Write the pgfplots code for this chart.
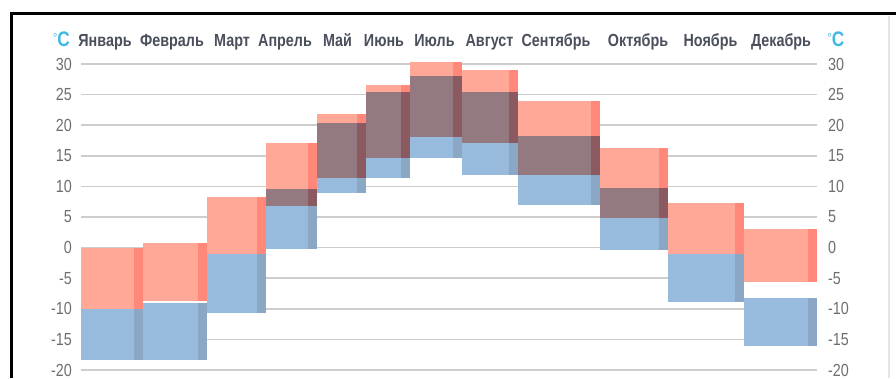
\documentclass[border=0pt]{standalone}
\usepackage{pgfplots}
\pgfplotsset{compat=1.18}
\usepackage{pgfplotstable}
\usepackage{fontspec}
\setmainfont[FakeStretch=0.82]{Liberation Sans}
\definecolor{rM}{HTML}{FFA898}
\definecolor{rS}{HTML}{FF887A}
\definecolor{bM}{HTML}{98BADC}
\definecolor{bS}{HTML}{8AA8C6}
\definecolor{dM}{HTML}{947A80}
\definecolor{dS}{HTML}{8A5A60}
\definecolor{gridc}{HTML}{CDCDCD}
\definecolor{tickc}{HTML}{6E6E6E}
\definecolor{monc}{HTML}{4A4F5C}
\definecolor{degc}{HTML}{40B8E6}

% column edges (x0,x1), red range (rlo,rhi), blue range (blo,bhi)
\pgfplotstableread{
x0  x1  rlo   rhi   blo    bhi
81  143 -10.0 0.0   -18.4  -10.0
143 207 -8.7  0.8   -18.4  -9.1
207 266 -1.1  8.2   -10.7  -1.1
266 317 6.8   17.1  -0.3   9.6
317 366 11.3  21.8  9.0    20.3
366 410 14.7  26.6  11.4   25.4
410 462 18.0  30.4  14.7   28.1
462 518 17.1  29.1  11.9   25.4
518 600 11.9  24.0  6.9    18.2
600 668 4.9   16.3  -0.4   9.8
668 744 -1.1  7.3   -8.9   -1.1
744 817 -5.6  3.0   -16.0  -8.3
}\temps

\begin{document}
\begin{tikzpicture}
\path[use as bounding box] (0pt,0pt) rectangle (896pt,378pt);
% frame
\draw[line width=3pt,black] (11pt,0pt) -- (11pt,364pt) -- (896pt,364pt);
\draw[line width=2.5pt,black!10] (889pt,0pt) -- (889pt,362pt);

\begin{axis}[
  at={(81pt,8pt)}, anchor=south west,
  width=736pt, height=306pt, scale only axis,
  xmin=81, xmax=817, ymin=-20, ymax=30,
  clip=false,
  axis line style={draw=none},
  major tick length=0pt,
  ytick={-20,-15,...,30},
  ymajorgrids,
  grid style={color=gridc, line width=1.6pt},
  /pgf/number format/assume math mode=true,
  yticklabel style={font=\fontsize{17.5}{17.5}\selectfont, text=tickc, anchor=east, inner sep=0pt, xshift=-9pt},
  xtick={105,172,232,285,337.5,384,434.5,489.5,556,638,710.5,781},
  xticklabels={Январь,Февраль,Март,Апрель,Май,Июнь,Июль,Август,Сентябрь,Октябрь,Ноябрь,Декабрь},
  xticklabel pos=upper,
  xticklabel style={font=\fontsize{17.5}{17.5}\selectfont\bfseries, text=monc, anchor=base, inner sep=0pt, yshift=17.3pt},
]
\pgfplotsinvokeforeach{0,...,11}{%
  \pgfplotstablegetelem{#1}{x0}\of\temps \edef\xa{\pgfplotsretval}%
  \pgfplotstablegetelem{#1}{x1}\of\temps \edef\xb{\pgfplotsretval}%
  \pgfplotstablegetelem{#1}{rlo}\of\temps \edef\rlo{\pgfplotsretval}%
  \pgfplotstablegetelem{#1}{rhi}\of\temps \edef\rhi{\pgfplotsretval}%
  \pgfplotstablegetelem{#1}{blo}\of\temps \edef\blo{\pgfplotsretval}%
  \pgfplotstablegetelem{#1}{bhi}\of\temps \edef\bhi{\pgfplotsretval}%
  \pgfmathsetmacro\xs{\xb-9}%
  \edef\doit{%
    \noexpand\addplot[draw=none,fill=rM] coordinates {(\xa,\rlo) (\xs,\rlo) (\xs,\rhi) (\xa,\rhi)};%
    \noexpand\addplot[draw=none,fill=rS] coordinates {(\xs,\rlo) (\xb,\rlo) (\xb,\rhi) (\xs,\rhi)};%
    \noexpand\addplot[draw=none,fill=bM] coordinates {(\xa,\blo) (\xs,\blo) (\xs,\bhi) (\xa,\bhi)};%
    \noexpand\addplot[draw=none,fill=bS] coordinates {(\xs,\blo) (\xb,\blo) (\xb,\bhi) (\xs,\bhi)};%
  }\doit
  \pgfmathsetmacro\olo{max(\rlo,\blo)}%
  \pgfmathsetmacro\ohi{min(\rhi,\bhi)}%
  \ifdim\olo pt<\ohi pt
    \edef\doit{%
      \noexpand\addplot[draw=none,fill=dM] coordinates {(\xa,\olo) (\xs,\olo) (\xs,\ohi) (\xa,\ohi)};%
      \noexpand\addplot[draw=none,fill=dS] coordinates {(\xs,\olo) (\xb,\olo) (\xb,\ohi) (\xs,\ohi)};%
    }\doit
  \fi
}
\end{axis}

\begin{axis}[
  at={(81pt,8pt)}, anchor=south west,
  width=736pt, height=306pt, scale only axis,
  xmin=81, xmax=817, ymin=-20, ymax=30,
  axis line style={draw=none},
  major tick length=0pt,
  xtick=\empty,
  ytick={-20,-15,...,30},
  yticklabel pos=right,
  /pgf/number format/assume math mode=true,
  yticklabel style={font=\fontsize{17.5}{17.5}\selectfont, text=tickc, anchor=west, inner sep=0pt, xshift=11pt},
]
\end{axis}

\node[anchor=base, text=degc, inner sep=0pt] at (61.5pt,331.3pt) {{\fontsize{13}{13}\selectfont\raisebox{4pt}{°}}{\fontsize{21}{21}\selectfont\bfseries C}};
\node[anchor=base, text=degc, inner sep=0pt] at (836pt,331.3pt) {{\fontsize{13}{13}\selectfont\raisebox{4pt}{°}}{\fontsize{21}{21}\selectfont\bfseries C}};
\end{tikzpicture}
\end{document}
